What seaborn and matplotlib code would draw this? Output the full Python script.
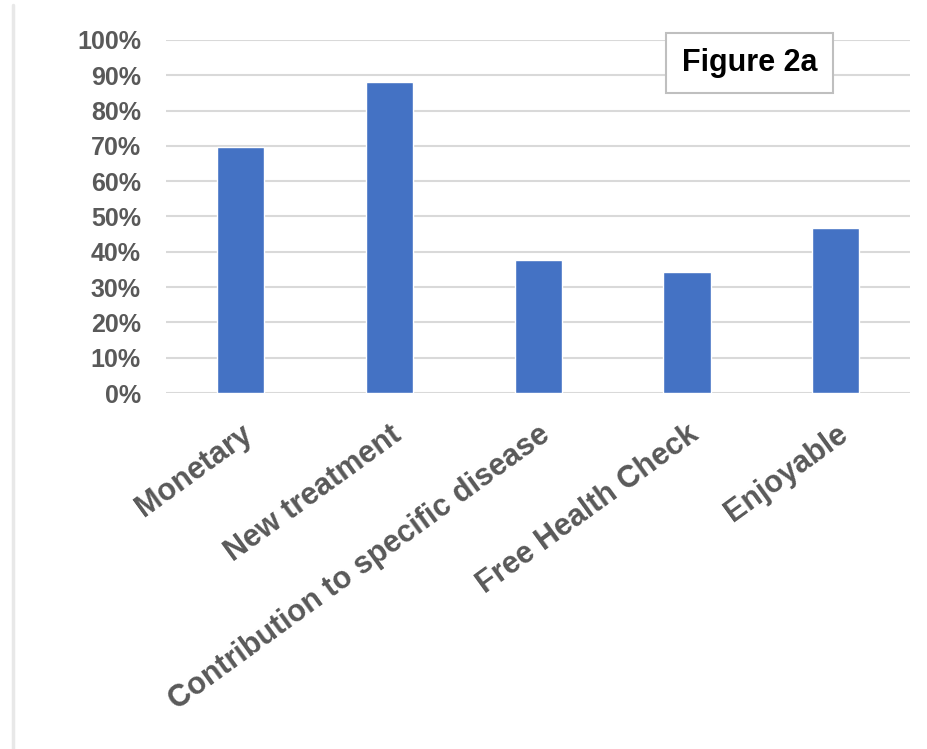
import matplotlib
matplotlib.use("Agg")
import matplotlib.pyplot as plt
import matplotlib.ticker as ticker
from matplotlib.lines import Line2D
import pandas as pd
import seaborn as sns

categories = ["Monetary", "New treatment", "Contribution to specific disease",
              "Free Health Check", "Enjoyable"]
shares = [0.697, 0.881, 0.377, 0.343, 0.467]
y_ticks = [0.0, 0.1, 0.2, 0.3, 0.4, 0.5, 0.6, 0.7, 0.8, 0.9, 1.0]

df = pd.DataFrame({"category": categories, "share": shares})

sns.set_style("white")
plt.rcParams['font.family'] = ['Liberation Sans', 'DejaVu Sans']

fig = plt.figure(figsize=(9.27, 7.49), dpi=100)
ax = fig.add_axes([0.179, 0.4753, 0.803, 0.4713])

sns.barplot(data=df, x="category", y="share", color="#4472C4", width=0.316,
            saturation=1, ax=ax, zorder=3)

ax.set_ylim(0, 1)
ax.set_xlim(-0.5, len(categories) - 0.5)
ax.set_yticks(y_ticks)
ax.yaxis.set_major_formatter(ticker.PercentFormatter(1.0, decimals=0))
ax.grid(axis="y", color="#d9d9d9", linewidth=1.5, zorder=0)
ax.set_xlabel("")
ax.set_ylabel("")
for side in ["top", "right", "left", "bottom"]:
    ax.spines[side].set_visible(False)
ax.tick_params(axis="both", length=0)
ax.tick_params(axis="y", pad=18)

for lab in ax.get_yticklabels():
    lab.set_fontsize(18)
    lab.set_fontweight("bold")
    lab.set_color("#595959")

ax.set_xticks(range(len(categories)))
ax.set_xticklabels(categories, rotation=36, ha="right", rotation_mode="anchor",
                   fontsize=22, fontweight="bold", color="#595959")
ax.tick_params(axis="x", pad=19)

ax.text(0.784, 0.935, "Figure 2a", transform=ax.transAxes, ha="center", va="center",
        fontsize=22, fontweight="bold", color="black",
        bbox=dict(boxstyle="square,pad=0.5", facecolor="white", edgecolor="#bfbfbf", linewidth=1.5),
        zorder=5)

# faint card edge on the left
fig.add_artist(Line2D([0.014, 0.014], [0.0, 0.993], transform=fig.transFigure,
                      color="#e8e8e8", linewidth=2.5))

fig.savefig("out.png", dpi=100)
